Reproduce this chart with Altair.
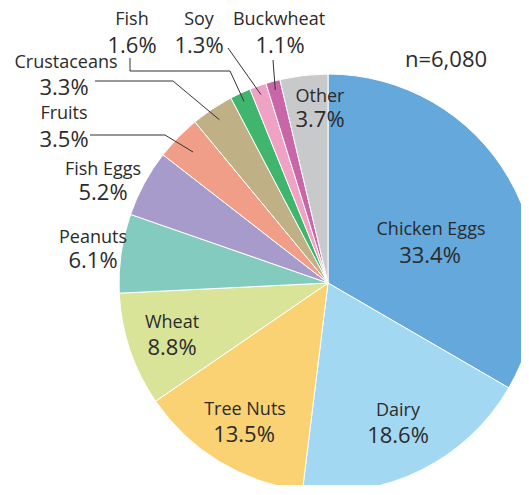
import math
import altair as alt
import pandas as pd

# ---- data ----
categories = ["Chicken Eggs", "Dairy", "Tree Nuts", "Wheat", "Peanuts", "Fish Eggs",
              "Fruits", "Crustaceans", "Fish", "Soy", "Buckwheat", "Other"]
shares = [33.4, 18.6, 13.5, 8.8, 6.1, 5.2, 3.5, 3.3, 1.6, 1.3, 1.1, 3.7]
pct_labels = ["33.4%", "18.6%", "13.5%", "8.8%", "6.1%", "5.2%",
              "3.5%", "3.3%", "1.6%", "1.3%", "1.1%", "3.7%"]
colors = ["#64a8dc", "#a3d8f3", "#fad274", "#d9e499", "#83cabf", "#a69bcb",
          "#f09e88", "#c0b086", "#40b56e", "#f0a2c4", "#c966a8", "#c8c9cb"]
sample_note = "n=6,080"

# ---- layout ----
CX, CY, R = 320, 275, 209
W, H = 513, 477
FONT = "Open Sans"
TXT = "#2b2b2b"

# label anchor positions (centre x, baseline y) for name and percentage
name_pos = [(423, 227), (390, 408), (237, 407), (164, 320), (85, 235), (95, 167),
            (56, 111), (58, 60), (124, 17), (191, 17), (271, 17), (312, 94)]
pct_pos = [(422, 255), (390, 435), (236, 434), (164, 347), (85, 260), (95, 192),
           (56, 139), (56, 87), (124, 45), (191, 45), (272, 45), (312, 119)]

# leader lines: label-side points + radius where line ends inside slice
leaders = {
    "Fish": ([(122, 50), (122, 63), (222, 63)], 200),
    "Soy": ([(220, 40)], 200),
    "Buckwheat": ([(265, 52)], 200),
    "Crustaceans": ([(87, 73), (165, 73)], 196),
    "Fruits": ([(82, 127), (157, 127)], 188),
}

df = pd.DataFrame({"cat": categories, "value": shares, "order": list(range(len(categories)))})

total = sum(shares)
mid_angle = {}
acc = 0.0
for c, v in zip(categories, shares):
    mid_angle[c] = (acc + v / 2) / total * 2 * math.pi
    acc += v

rows = []
for c, (pts, r_end) in leaders.items():
    a = mid_angle[c]
    path = pts + [(CX + r_end * math.sin(a), CY - r_end * math.cos(a))]
    for i, (x, y) in enumerate(path):
        rows.append({"g": c, "i": i, "x": x, "y": y})
lines_df = pd.DataFrame(rows)

names_df = pd.DataFrame({"t": categories,
                         "x": [p[0] for p in name_pos], "y": [p[1] for p in name_pos]})
pcts_df = pd.DataFrame({"t": pct_labels,
                        "x": [p[0] for p in pct_pos], "y": [p[1] for p in pct_pos]})
note_df = pd.DataFrame({"t": [sample_note], "x": [438], "y": [59]})

pie = alt.Chart(df).mark_arc(outerRadius=R, stroke="white", strokeWidth=1).encode(
    theta=alt.Theta("value:Q", stack=True),
    order=alt.Order("order:Q"),
    color=alt.Color("cat:N", scale=alt.Scale(domain=categories, range=colors), legend=None),
    x=alt.value(CX),
    y=alt.value(CY),
)

lines = alt.Chart(lines_df).mark_line(color="#333333", strokeWidth=1).encode(
    x=alt.X("x:Q", scale=None, axis=None),
    y=alt.Y("y:Q", scale=None, axis=None),
    detail="g:N",
    order="i:Q",
)

def text_layer(d, size):
    return alt.Chart(d).mark_text(font=FONT, fontSize=size, color=TXT,
                                  align="center", baseline="alphabetic").encode(
        x=alt.X("x:Q", scale=None, axis=None),
        y=alt.Y("y:Q", scale=None, axis=None),
        text="t:N",
    )

chart = alt.layer(
    pie, lines, text_layer(names_df, 18), text_layer(pcts_df, 22), text_layer(note_df, 22)
).properties(
    width=W, height=H, padding=0,
    autosize=alt.AutoSizeParams(type="none"),
).configure_view(stroke=None)

chart.save("out.html", embed_options={"renderer": "svg", "actions": False})
